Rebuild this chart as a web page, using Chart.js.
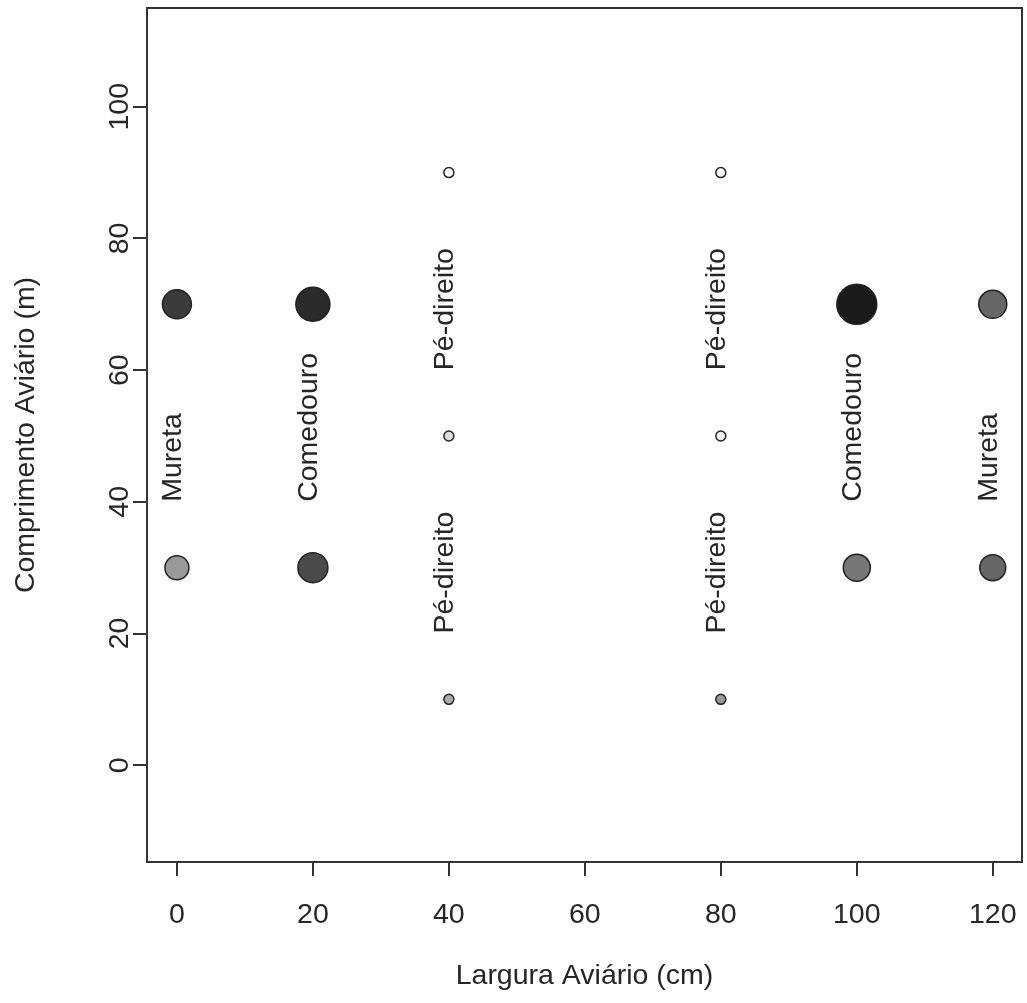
<!DOCTYPE html>
<html>
<head>
<meta charset="utf-8">
<script src="https://cdn.jsdelivr.net/npm/chart.js@4"></script>
<style>
  html, body { margin: 0; padding: 0; background: #fff; }
  #wrap { width: 1027px; height: 1003px; }
</style>
</head>
<body>
<div id="wrap"><canvas id="plot" width="1027" height="1003"></canvas></div>
<script>
// point data (largura, comprimento), marker size and grey level
const pointX = [0, 0, 20, 20, 40, 40, 40, 80, 80, 80, 100, 100, 120, 120];
const pointY = [70, 30, 70, 30, 90, 50, 10, 90, 50, 10, 70, 30, 70, 30];
const pointSize = [14.5, 12, 17, 15, 5, 5, 5, 5, 5, 5, 20, 13.5, 14, 13];
const pointFill = ["#3b3b3b", "#999999", "#2b2b2b", "#4a4a4a", "#ffffff", "#dddddd", "#aaaaaa",
                   "#ffffff", "#eeeeee", "#999999", "#1a1a1a", "#777777", "#666666", "#666666"];

// rotated text labels
const labelText = ["Mureta", "Comedouro", "Pé-direito", "Pé-direito", "Pé-direito", "Pé-direito", "Comedouro", "Mureta"];
const labelX = [0, 20, 40, 40, 80, 80, 100, 120];
const labelY = [40, 40, 60, 20, 60, 20, 40, 40];

const xTicks = [0, 20, 40, 60, 80, 100, 120];
const yTicks = [0, 20, 40, 60, 80, 100];

const fontFam = "'Liberation Sans', Arial, sans-serif";
const fontSize = 28.5;
const textColor = "#262626";

const boxAndText = {
  id: "boxAndText",
  afterDraw(chart) {
    const ctx = chart.ctx;
    const area = chart.chartArea;
    const xs = chart.scales.x;
    const ys = chart.scales.y;
    ctx.save();
    ctx.strokeStyle = "#333";
    ctx.lineWidth = 2;
    ctx.strokeRect(area.left, area.top, area.right - area.left, area.bottom - area.top);

    ctx.fillStyle = textColor;
    ctx.font = fontSize + "px " + fontFam;

    // x tick labels
    ctx.textAlign = "center";
    ctx.textBaseline = "middle";
    xTicks.forEach(v => ctx.fillText(String(v), xs.getPixelForValue(v), 915));

    // y tick labels (rotated)
    yTicks.forEach(v => {
      ctx.save();
      ctx.translate(120, ys.getPixelForValue(v));
      ctx.rotate(-Math.PI / 2);
      ctx.fillText(String(v), 0, 0);
      ctx.restore();
    });

    // axis titles
    ctx.fillText("Largura Aviário (cm)", (area.left + area.right) / 2, 976);
    ctx.save();
    ctx.translate(26, (area.top + area.bottom) / 2);
    ctx.rotate(-Math.PI / 2);
    ctx.fillText("Comprimento Aviário (m)", 0, 0);
    ctx.restore();

    // annotations
    ctx.textAlign = "left";
    labelText.forEach((t, i) => {
      ctx.save();
      ctx.translate(xs.getPixelForValue(labelX[i]) - 4, ys.getPixelForValue(labelY[i]));
      ctx.rotate(-Math.PI / 2);
      ctx.fillText(t, 0, 0);
      ctx.restore();
    });
    ctx.restore();
  }
};

new Chart(document.getElementById("plot"), {
  type: "scatter",
  data: {
    datasets: [{
      data: pointX.map((x, i) => ({ x: x, y: pointY[i] })),
      pointRadius: pointSize,
      pointHoverRadius: pointSize,
      backgroundColor: pointFill,
      borderColor: "#222",
      borderWidth: 1.5
    }]
  },
  options: {
    responsive: false,
    animation: false,
    events: [],
    layout: { autoPadding: false, padding: { top: 8, right: 5, left: 0, bottom: 0 } },
    plugins: { legend: { display: false }, tooltip: { enabled: false } },
    scales: {
      x: {
        type: "linear",
        min: -4.4,
        max: 124.3,
        afterBuildTicks: s => { s.ticks = xTicks.map(v => ({ value: v })); },
        afterFit: s => { s.height = 141; },
        grid: { drawOnChartArea: false, drawTicks: true, tickLength: 14, color: "#333", lineWidth: 2 },
        border: { display: false },
        ticks: { display: false }
      },
      y: {
        type: "linear",
        min: -14.7,
        max: 115,
        afterBuildTicks: s => { s.ticks = yTicks.map(v => ({ value: v })); },
        afterFit: s => { s.width = 147; },
        grid: { drawOnChartArea: false, drawTicks: true, tickLength: 14, color: "#333", lineWidth: 2 },
        border: { display: false },
        ticks: { display: false }
      }
    }
  },
  plugins: [boxAndText]
});
</script>
</body>
</html>
